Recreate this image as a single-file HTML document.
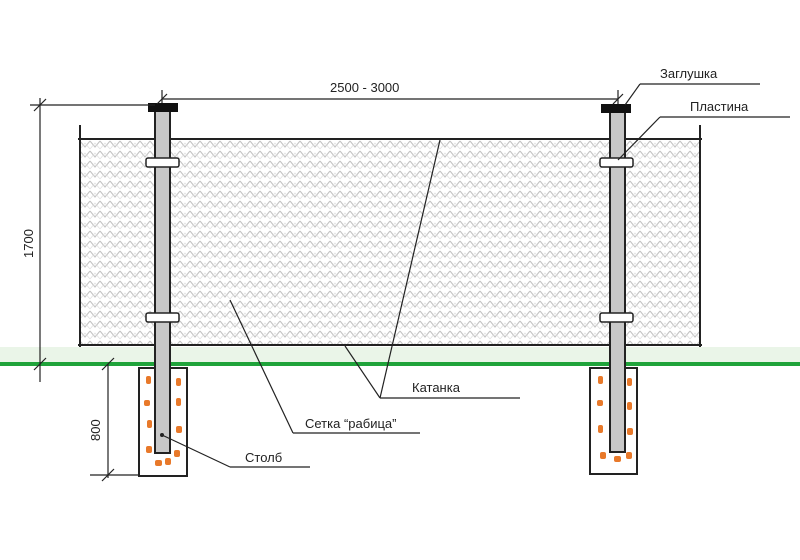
<!DOCTYPE html>
<html><head><meta charset="utf-8"><style>
html,body{margin:0;padding:0;background:#fff;}
svg{display:block;}
text{font-family:"Liberation Sans","DejaVu Sans",sans-serif;font-size:13px;fill:#222;}
</style></head><body>
<svg width="800" height="560" viewBox="0 0 800 560" xmlns="http://www.w3.org/2000/svg">
<defs>
<pattern id="mesh" width="10" height="10" patternUnits="userSpaceOnUse">
<path d="M0 1 L5 7 L10 1" fill="none" stroke="#c4c4c4" stroke-width="1.1"/>
<path d="M0 9 L5 3 L10 9" fill="none" stroke="#e0e0e0" stroke-width="0.8"/>
</pattern>
</defs>
<rect x="80" y="139" width="620" height="206" fill="url(#mesh)"/>
<line x1="80" y1="125" x2="80" y2="347" stroke="#222" stroke-width="2"/>
<line x1="700" y1="125" x2="700" y2="347" stroke="#222" stroke-width="2"/>
<line x1="78" y1="139" x2="702" y2="139" stroke="#222" stroke-width="2"/>
<line x1="78" y1="345" x2="702" y2="345" stroke="#222" stroke-width="2"/>
<rect x="0" y="347" width="800" height="16" fill="#dcefd8" opacity="0.6"/>
<line x1="0" y1="364" x2="800" y2="364" stroke="#1fa33a" stroke-width="4"/>
<rect x="139" y="368" width="48" height="108" fill="#fff" stroke="#222" stroke-width="2"/>
<rect x="590" y="368" width="47" height="106" fill="#fff" stroke="#222" stroke-width="2"/>
<g fill="#e8792a">
<rect x="146" y="376" width="5" height="8" rx="2"/><rect x="176" y="378" width="5" height="8" rx="2"/>
<rect x="144" y="400" width="6" height="6" rx="2"/><rect x="176" y="398" width="5" height="8" rx="2"/>
<rect x="147" y="420" width="5" height="8" rx="2"/><rect x="176" y="426" width="6" height="7" rx="2"/>
<rect x="146" y="446" width="6" height="7" rx="2"/><rect x="174" y="450" width="6" height="7" rx="2"/>
<rect x="155" y="460" width="7" height="6" rx="2"/><rect x="165" y="458" width="6" height="7" rx="2"/>
<rect x="598" y="376" width="5" height="8" rx="2"/><rect x="627" y="378" width="5" height="8" rx="2"/>
<rect x="597" y="400" width="6" height="6" rx="2"/><rect x="627" y="402" width="5" height="8" rx="2"/>
<rect x="598" y="425" width="5" height="8" rx="2"/><rect x="627" y="428" width="6" height="7" rx="2"/>
<rect x="600" y="452" width="6" height="7" rx="2"/><rect x="614" y="456" width="7" height="6" rx="2"/><rect x="626" y="452" width="6" height="7" rx="2"/>
</g>
<rect x="155" y="111" width="15" height="342" fill="#c8c8c8" stroke="#222" stroke-width="2"/>
<rect x="610" y="112" width="15" height="340" fill="#c8c8c8" stroke="#222" stroke-width="2"/>
<rect x="148" y="103" width="30" height="9" fill="#111"/>
<rect x="601" y="104" width="30" height="9" fill="#111"/>
<rect x="146" y="158" width="33" height="9" rx="2" fill="#fff" stroke="#222" stroke-width="1.5"/>
<rect x="146" y="313" width="33" height="9" rx="2" fill="#fff" stroke="#222" stroke-width="1.5"/>
<rect x="600" y="158" width="33" height="9" rx="2" fill="#fff" stroke="#222" stroke-width="1.5"/>
<rect x="600" y="313" width="33" height="9" rx="2" fill="#fff" stroke="#222" stroke-width="1.5"/>
<g stroke="#222" stroke-width="1.2" fill="none">
<line x1="30" y1="105" x2="155" y2="105"/>
<line x1="162" y1="99" x2="618" y2="99"/>
<line x1="162" y1="90" x2="162" y2="103"/>
<line x1="618" y1="90" x2="618" y2="104"/>
<line x1="40" y1="98" x2="40" y2="382"/>
<line x1="34" y1="111" x2="46" y2="99"/>
<line x1="34" y1="370" x2="46" y2="358"/>
<line x1="157" y1="104" x2="167" y2="94"/>
<line x1="613" y1="104" x2="623" y2="94"/>
<line x1="108" y1="364" x2="108" y2="478"/>
<line x1="102" y1="370" x2="114" y2="358"/>
<line x1="102" y1="481" x2="114" y2="469"/>
<line x1="90" y1="475" x2="140" y2="475"/>
<line x1="640" y1="84" x2="760" y2="84"/><line x1="640" y1="84" x2="625" y2="105"/>
<line x1="660" y1="117" x2="790" y2="117"/><line x1="660" y1="117" x2="618" y2="160"/>
<line x1="380" y1="398" x2="520" y2="398"/><line x1="380" y1="398" x2="440" y2="140"/><line x1="380" y1="398" x2="345" y2="346"/>
<line x1="293" y1="433" x2="420" y2="433"/><line x1="293" y1="433" x2="230" y2="300"/>
<line x1="230" y1="467" x2="310" y2="467"/><line x1="230" y1="467" x2="162" y2="435"/>
</g>
<circle cx="162" cy="435" r="2" fill="#222"/>
<text x="330" y="92">2500 - 3000</text>
<text x="660" y="78">Заглушка</text>
<text x="690" y="111">Пластина</text>
<text x="412" y="392">Катанка</text>
<text x="305" y="428">Сетка “рабица”</text>
<text x="245" y="462">Столб</text>
<text transform="translate(33,258) rotate(-90)">1700</text>
<text transform="translate(100,441) rotate(-90)">800</text>
</svg>
</body></html>
